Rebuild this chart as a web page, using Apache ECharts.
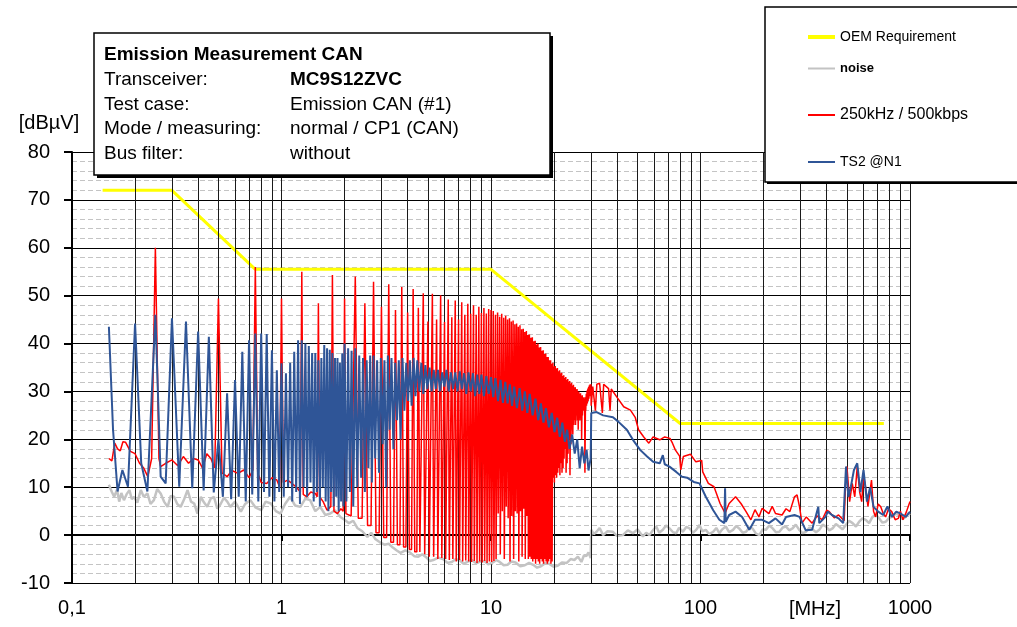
<!DOCTYPE html>
<html>
<head>
<meta charset="utf-8">
<script src="https://cdn.jsdelivr.net/npm/echarts@6/dist/echarts.min.js"></script>
<style>
  html, body { margin: 0; padding: 0; background: #fff; }
  #chart { width: 1017px; height: 627px; }
</style>
</head>
<body>
<div id="chart"></div>
<script>
// x: frequency in MHz (log axis), y: level in dBµV
const xTickLabels = ['0,1', '1', '10', '100', '1000'];
const minorGridMHz = [0.2, 0.3, 0.4, 0.5, 0.6, 0.7, 0.8, 0.9,
  2, 3, 4, 5, 6, 7, 8, 9, 20, 30, 40, 50, 60, 70, 80, 90,
  200, 300, 400, 500, 600, 700, 800, 900];

const oemLimit = [[0.14, 72], [0.3, 72], [0.75, 55.5], [10, 55.5], [80, 23.3], [750, 23.3]];

const noiseTrace = [
  [0.15,10.5],[0.155,9],[0.159,8],[0.164,9.5],[0.168,7],[0.172,8.8],[0.177,7.3],[0.182,8.5],[0.188,9.4],[0.193,7.5],
  [0.198,8],[0.205,6.8],[0.213,9.4],[0.22,8],[0.229,8.7],[0.237,6.5],[0.246,7.3],[0.255,9.6],[0.265,8.7],[0.275,7],
  [0.286,5.9],[0.296,8.2],[0.307,8],[0.318,6.5],[0.33,5.9],[0.343,7.5],[0.356,9.4],[0.37,7],[0.383,6.6],[0.397,4.5],
  [0.412,8],[0.427,6.8],[0.442,5.9],[0.459,7.6],[0.476,8],[0.494,5.5],[0.512,6.5],[0.531,7.8],[0.551,7],[0.57,5.9],
  [0.6,7],[0.64,4.9],[0.67,6.5],[0.71,7.3],[0.75,5.8],[0.8,5.2],[0.84,7],[0.89,6.6],[0.94,5],[0.99,4.5],
  [1.04,6.5],[1.1,8],[1.16,6.2],[1.23,5.9],[1.3,7.6],[1.37,7.3],[1.45,5],[1.53,5.9],[1.62,4.2],[1.71,4.5],
  [1.8,5.2],[1.91,3.8],[2.0,3.2],[2.1,2.5],[2.2,3],[2.3,1.5],[2.43,0.8],[2.57,-0.4],[2.68,0.5],[2.8,-0.8],
  [2.95,-1.5],[3.1,-2],[3.25,-1.8],[3.4,-2.6],[3.55,-3.2],[3.7,-3.7],[3.9,-3.2],[4.1,-3.6],[4.3,-4.4],[4.5,-4.5],
  [4.7,-4],[4.9,-4.6],[5.1,-5.4],[5.3,-5.2],[5.6,-4.7],[5.9,-5],[6.2,-5.8],[6.5,-5.6],[6.8,-5],[7.1,-5.3],
  [7.4,-6],[7.7,-5.6],[8.1,-5.2],[8.5,-5.9],[8.9,-5.5],[9.3,-5.4],[9.7,-6.1],[10.2,-5.7],[10.6,-5.2],[11,-5.6],
  [11.5,-6.3],[12,-6.2],[12.5,-5.5],[13.1,-5.7],[13.8,-6.5],[14.5,-6.3],[15.2,-5.8],[15.9,-6.2],[16.6,-6.8],[17.3,-6.5],
  [18.1,-5.9],[19,-6],[19.9,-6.6],[20.8,-6.4],[21.8,-5.7],[23,-5.8],[24,-5],[25,-5.2],[26,-4.5],[27,-5.6],
  [27.8,-4.2],[28.5,-4.4],[29.2,-3.6],[29.9,-4.8],
  [30.1,1.1],[31,0.2],[31.9,0.7],[33,1.5],[34.3,0],[36,0.8],[38.2,0.7],[40,-0.2],[42.6,0],[45,1],
  [47.6,0.4],[50,1.2],[53.1,-0.3],[55,0.5],[57.1,0],[59,0.9],[61.5,1.8],[63.5,0.5],[66.1,1.1],[68.5,2],
  [71.1,1.4],[74,0.6],[76.6,0.4],[79,1.5],[82.4,0.7],[85.5,1.7],[88.7,1.4],[92,0.5],[95.4,1.1],[98.9,2.1],
  [102,0.8],[106,1.1],[110,0.2],[115,0.7],[119,1.5],[123,0.4],[127,1.2],[132,1.8],[137,0.6],[143,1.1],
  [148,1.9],[153,1.4],[159,0.5],[165,0.7],[171,1.6],[177,1.4],[184,0.3],[191,0],[198,1.2],[205,1.1],
  [213,2],[221,1.4],[229,0.6],[238,0.7],[247,1.6],[256,1.8],[265,1],[275,1.4],[285,2.2],[296,1.1],
  [307,0.4],[319,0.7],[331,1.6],[343,1.2],[356,0.6],[369,1.1],[383,2.2],[397,1.8],[412,1],[427,1.4],
  [443,2.3],[459,1.8],[476,1.2],[494,2.1],[512,3],[532,2.5],[552,1.8],[572,2.8],[593,3.5],[615,3.2],
  [638,2.5],[662,3.8],[687,4.3],[712,3.5],[739,2.6],[766,2.8],[795,3.6],[824,3.8],[855,4.5],[887,4.2],
  [920,3.3],[954,3.8],[980,4.6],[1000,4.2]
];

// 250 kHz / 500 kbps: low band read point by point
const redLow = [
  [0.15,16],[0.155,15.5],[0.16,19.2],[0.165,18],[0.17,17.6],[0.175,19.5],[0.18,19.4],[0.19,17.5],[0.2,17],[0.21,15],
  [0.22,14],[0.23,12.2],[0.24,16],[0.25,60],[0.26,16],[0.265,14.3],[0.28,15],[0.3,15.7],[0.32,14.5],[0.34,16.4],
  [0.36,15],[0.38,16],[0.4,15.7],[0.42,14],[0.44,17],[0.46,16],[0.48,14],[0.5,49.4],[0.52,13],[0.55,12.2],
  [0.58,13.5],[0.62,12.9],[0.66,13.6],[0.7,12],[0.73,13.6],[0.75,56],[0.77,13],[0.8,11],[0.85,10.8],[0.9,12],
  [0.95,11.5],[0.98,10],[1.0,49.4],[1.02,11],[1.07,11.5],[1.12,10.8],[1.18,10],[1.23,9],[1.25,55],[1.27,8.5],
  [1.32,8],[1.38,9],[1.45,8.7],[1.48,8],[1.5,48.4],[1.52,8],[1.58,7],[1.65,5.2],[1.72,6],[1.75,54.3],
  [1.78,5],[1.85,4.5],[1.92,5.5],[1.97,5],[2.0,49.4],[2.03,4.5],[2.15,4]
];
// harmonics of 250 kHz from 2.25 MHz (n = 9) to 30 MHz (n = 120): peak and floor after each
const redHarmStep = 0.25;
const redHarmFirst = 9;
const redHarmPeak = [
  54, 48.4, 52.9, 47.7, 52.4, 47, 51.8, 46.5, 51.4, 47.5, 50.5, 44.6,
  50.4, 45, 50.1, 44.5, 49.2, 45.5, 49, 45, 48.6, 46,
  48.3, 46.2, 48, 46, 47.7, 46.4, 47.4, 46.3, 47.2, 47,
  46.8, 46, 46.5, 45.6, 46.2, 45.4, 45.8, 45, 45.3, 44.6,
  44.8, 44, 44.2, 43.5, 43.8, 43, 43.1, 42.4, 42.6, 41.8,
  41.9, 41.2, 41.3, 40.5, 40.6, 39.8, 40, 39.2, 39.3, 38.5,
  38.6, 37.8, 37.9, 37.2, 37.2, 36.5, 36.5, 35.8, 36, 35.2,
  35.3, 34.8, 34.9, 34.2, 34.4, 33.8, 33.9, 33.2, 33.4, 32.8,
  33, 32.4, 32.6, 32, 32.2, 31.6, 31.8, 31.2, 31.4, 30.8,
  30.9, 30.4, 30.5, 30, 30, 29.5, 29.6, 29, 29.2, 28.6,
  28.8, 28.4, 28.8, 29.5, 30.2, 30.6, 31, 31.3, 31.5, 31.5
];
const redHarmDip = [
  3.5, 2, 0.5, -0.5, -1.5, -2, -2.5, -3, -3.5, -3.5, -4, -4.5,
  -4.5, -5, -4.8, -5, -5.2, -5, -5.5, -5.2, -5.5, -5.3,
  -5.5, -5.6, -5.4, -5.8, -5.5, -5.7, -5.4, -5.8, -5.5, -5.6,
  -5.4, -5, 4.5, -4, 5, -5, 6, 3.5, -5.5, 4,
  -5, 5, 4.5, -5.5, 5, -4.5, 5.5, -5, 4, -5,
  -4.5, -5, -5.5, -5, -6, -5, -5.5, -6, -5, -5.5,
  -6, -5, -5.5, -6, -5.5, -5, -6, -5.5, 12, 11,
  12.5, 12, 13, 14, 12.5, 15, 13, 14, 16, 18,
  13, 15, 17, 20, 12.5, 19, 22, 21, 23, 24,
  23, 25, 24, 22, 25, 24, 26, 20, 25, 26,
  26, 13, 26, 27, 27.5, 28, 28.5, 29, 29, 27
];
const redHigh = [
  [30.6,31],[31.5,26],[32,31.5],[33,31.7],[34,25.5],[34.5,31.5],[36.4,30.6],[37,26],[37.5,30.5],[40.2,28.6],
  [43,26.8],[46.3,26.1],[48.8,24.6],[50.6,22],[53.6,20.5],[56.7,19.2],[59.4,20.5],[63.9,19.9],[67.5,20.5],[71.5,20.2],
  [73.5,19.2],[75.8,17.8],[79.5,16.5],[80.5,13.6],[82.8,16.4],[89.5,16.9],[95,15.3],[101.3,15.6],[102.5,13.2],[109,10.8],
  [116,10.1],[124,6.6],[131,4.6],[137,6.6],[147,8],[156,6.6],[165,4.9],[174,3.2],[182,5.3],[190,3.8],
  [197,5.6],[212,4.5],[220,6],[228,4.5],[245,4.2],[256,5.5],[267,4.9],[281,8],[289,8.4],[297,5.9],
  [305,2.5],[320,3.8],[341,2.5],[360,4],[381,3.2],[400,5.2],[412,4.9],[435,3.6],[456,4.2],[485,3],
  [492,10.1],[500,14.3],[515,7],[530,10.8],[545,8],[560,14.3],[575,9],[588,7],[600,12],[610,10.8],
  [630,6],[655,11.5],[670,5],[685,3.8],[705,6.5],[725,5.9],[745,4.5],[765,3.8],[790,5.5],[818,4.9],
  [850,3.2],[880,3.5],[900,5],[925,3.2],[960,4.8],[1000,7]
];

// TS2 @N1
const blueLow = [
  [0.15,43.5],[0.157,22],[0.165,9.1],[0.174,13.6],[0.185,10.1],[0.2,44.2],[0.214,15],[0.229,9.1],[0.25,46],[0.265,12.2],
  [0.28,10.8],[0.3,45.3],[0.325,10.1],[0.35,44.6],[0.375,9.8],[0.4,42.5],[0.425,9.3],[0.45,41.4],[0.475,8.9],[0.5,20],
  [0.525,8],[0.55,29.6],[0.575,7.5],[0.6,32.4],[0.625,8],[0.65,38.3],[0.675,7],[0.7,40.7],[0.725,8.5],[0.75,42.1],
  [0.775,7],[0.8,42.1],[0.825,9],[0.85,42],[0.875,8],[0.9,38.6],[0.925,7],[0.95,34.4],[0.975,9],[1.0,35.9],
  [1.025,8],[1.05,33.8],[1.075,10],[1.1,36],[1.125,7],[1.15,38.3],[1.175,9],[1.2,40.7],[1.225,6.5],[1.25,40.7],
  [1.275,10],[1.3,40],[1.325,8],[1.35,39.5],[1.375,11],[1.4,38],[1.425,7],[1.45,38],[1.475,9],[1.5,36.5],
  [1.525,6],[1.55,37],[1.575,10],[1.6,39.7],[1.625,7],[1.65,39],[1.675,5],[1.7,38.7],[1.725,9],[1.75,38],
  [1.775,6],[1.8,37],[1.825,8],[1.85,37],[1.875,5],[1.9,36],[1.925,7],[1.95,38],[1.975,6]
];
const blueDense = [
  [2.0,40],[2.04,7],[2.08,39],[2.12,9],[2.16,38.5],[2.2,6],[2.25,39],[2.3,10],[2.35,37.5],[2.4,12],
  [2.45,37],[2.5,9],[2.55,36.5],[2.6,14],[2.65,37.5],[2.7,11],[2.75,37.5],[2.8,16],[2.86,36.5],[2.92,13],
  [2.98,37],[3.04,19],[3.1,36.5],[3.16,10],[3.22,37.5],[3.28,22],[3.35,37],[3.42,18],[3.49,36],[3.56,24],
  [3.63,36.5],[3.7,20],[3.78,37],[3.86,26],[3.94,36],[4.02,28],[4.1,36.5],[4.18,27],[4.27,37],[4.36,29],
  [4.45,36.5],[4.55,30],[4.65,36],[4.75,29.5],[4.86,35.5],[4.97,30.5],[5.09,35],[5.21,30],[5.33,34.5],[5.45,30.5],
  [5.58,34.5],[5.71,30],[5.85,34],[5.99,31],[6.13,34.5],[6.28,30],[6.43,34],[6.59,30.5],[6.75,34],[6.92,30],
  [7.09,34.2],[7.26,30.5],[7.44,33.8],[7.62,29.5],[7.81,34],[8.0,30],[8.2,33.8],[8.4,29],[8.6,33.5],[8.8,29.5],
  [9.0,33.5],[9.25,29],[9.5,33.2],[9.75,29.5],[10.0,33],[10.25,28.8],[10.5,32.8],[10.8,28],[11.1,32.4],[11.4,27.6],
  [11.7,32],[12.0,27.5],[12.3,31.5],[12.6,27],[12.9,31],[13.3,26.5],[13.7,30.7],[14.1,26],[14.5,30],[14.9,25.5],
  [15.3,29.5],[15.8,25],[16.3,28.5],[16.8,24],[17.3,27.5],[17.8,23.5],[18.3,26.5],[18.9,22.5],[19.5,25.5],[20.1,21.5],
  [20.7,24.5],[21.3,20.5],[21.9,23.5],[22.5,19.5],[23.1,22],[23.7,18],[24.4,21],[25.1,17],[25.8,20],[26.5,14],
  [27.2,18.5],[27.9,15],[28.6,17.8],[29.2,13.5],[29.9,16]
];
const blueHigh = [
  [30.1,25.5],[31.9,25.7],[34.3,25],[38.2,24.6],[40.5,23.7],[44.5,22],[47.6,19.9],[51.5,17.8],[55.6,16.4],[59.4,15.3],
  [63.9,15],[66.1,16.7],[67.5,14.8],[71.1,14.3],[76.6,13.2],[81.6,12.2],[86.3,12],[92.8,11.1],[98.9,10.8],[106,8],
  [115,5.2],[123,3.2],[130,2.5],[131,9.8],[132,2.8],[137,4.2],[147,4.9],[158,3.8],[171,1.1],[182,3.2],
  [197,3.2],[212,2.5],[228,3.5],[245,2.2],[256,3.8],[281,4.2],[297,3.8],[318,1],[341,1.1],[365,5.9],
  [369,2.5],[395,3.8],[405,4.9],[424,4.2],[456,3.5],[480,2.5],[495,14.3],[508,8],[522,10.1],[540,13.6],
  [560,15],[580,9],[600,13.6],[623,7],[645,10],[670,5.9],[705,4.9],[745,4.2],[780,6],[818,3.8],
  [860,4.9],[902,4.5],[955,3.8],[1000,4.9]
];

function harmonicTrace(step, first, peaks, dips) {
  const out = [];
  peaks.forEach(function (p, i) {
    const f = (first + i) * step;
    out.push([f, p]);
    out.push([f + step * 0.3, dips[i]]);
    out.push([f + step * 0.7, dips[i]]);
  });
  return out;
}

const redTrace = redLow.concat(harmonicTrace(redHarmStep, redHarmFirst, redHarmPeak, redHarmDip), redHigh);
const blueTrace = blueLow.concat(blueDense, blueHigh);

const font = '"Liberation Sans", Arial, sans-serif';
const chart = echarts.init(document.getElementById('chart'));

function lineSeries(name, data, color, width, z) {
  return {
    name: name, type: 'line', data: data, z: z,
    symbol: 'none', showSymbol: false, silent: true,
    lineStyle: { color: color, width: width },
    itemStyle: { color: color }
  };
}

function legendItem(name, top, size, thick, weight) {
  return {
    data: [name], left: 803, top: top, z: 60,
    icon: 'rect', itemWidth: 27, itemHeight: thick, selectedMode: false,
    textStyle: { color: '#000', fontSize: size, fontWeight: weight || 'normal', fontFamily: font }
  };
}

function boxText(x, y, text, bold) {
  return {
    type: 'text', x: x, y: y, z: 55,
    style: { text: text, fill: '#000', fontSize: 19, fontWeight: bold ? 'bold' : 'normal',
      fontFamily: font, verticalAlign: 'middle' }
  };
}

const option = {
  backgroundColor: '#fff',
  animation: false,
  grid: { left: 72, right: 107, top: 152, bottom: 44, containLabel: false },
  xAxis: {
    type: 'log', logBase: 10, min: 0.1, max: 1000,
    axisLine: { lineStyle: { color: '#000', width: 2 } },
    axisTick: { show: true, length: 6, lineStyle: { color: '#000', width: 2 } },
    axisLabel: { color: '#000', fontSize: 20, fontFamily: font, margin: 15,
      formatter: function (v, i) { return xTickLabels[i]; } },
    splitLine: { show: true, lineStyle: { color: '#1a1a1a', width: 1 } }
  },
  yAxis: {
    type: 'value', min: -10, max: 80, interval: 10,
    name: '[dBµV]', nameLocation: 'end', nameGap: 29,
    nameTextStyle: { color: '#000', fontSize: 20, fontFamily: font, align: 'center',
      verticalAlign: 'middle', padding: [0, 46, 0, 0] },
    axisLine: { show: true, lineStyle: { color: '#000', width: 2 } },
    axisTick: { show: true, length: 8, lineStyle: { color: '#000', width: 2 } },
    axisLabel: { color: '#000', fontSize: 20, fontFamily: font, margin: 22 },
    splitLine: { show: true, lineStyle: { color: '#000', width: 1 } },
    minorTick: { show: false, splitNumber: 5 },
    minorSplitLine: { show: true, lineStyle: { color: '#c4c4c4', width: 1, type: [5, 3] } }
  },
  legend: [
    legendItem('OEM Requirement', 25, 14, 4),
    legendItem('noise', 57, 13, 2, 'bold'),
    legendItem('250kHz / 500kbps', 102, 16, 2),
    legendItem('TS2 @N1', 150, 14, 2)
  ],
  graphic: [
    // info box with drop shadow
    { type: 'rect', z: 50, shape: { x: 97, y: 36, width: 456, height: 142 }, style: { fill: '#000' } },
    { type: 'rect', z: 51, shape: { x: 94, y: 33, width: 456, height: 142 },
      style: { fill: '#fff', stroke: '#000', lineWidth: 1.5 } },
    boxText(104, 55, 'Emission Measurement CAN', true),
    boxText(104, 80, 'Transceiver:'),
    boxText(290, 80, 'MC9S12ZVC', true),
    boxText(104, 104.5, 'Test case:'),
    boxText(290, 104.5, 'Emission CAN (#1)'),
    boxText(104, 129, 'Mode / measuring:'),
    boxText(290, 129, 'normal / CP1 (CAN)'),
    boxText(104, 153.5, 'Bus filter:'),
    boxText(290, 153.5, 'without'),
    // legend frame
    { type: 'rect', z: 50, shape: { x: 767, y: 9, width: 260, height: 175 }, style: { fill: '#000' } },
    { type: 'rect', z: 51, shape: { x: 765, y: 7, width: 260, height: 175 },
      style: { fill: '#fff', stroke: '#000', lineWidth: 1.5 } },
    { type: 'text', x: 815, y: 609, z: 55,
      style: { text: '[MHz]', fill: '#000', fontSize: 20, fontFamily: font, align: 'center', verticalAlign: 'middle' } }
  ],
  series: [
    {
      name: 'minor grid', type: 'line', data: [], z: 1, silent: true,
      markLine: {
        silent: true, symbol: ['none', 'none'], animation: false,
        label: { show: false },
        lineStyle: { color: '#1a1a1a', width: 1, type: 'solid' },
        data: minorGridMHz.map(function (v) { return { xAxis: v }; })
      }
    },
    lineSeries('OEM Requirement', oemLimit, '#ffff00', 3, 3),
    lineSeries('noise', noiseTrace, '#c3c3c3', 2.5, 4),
    lineSeries('250kHz / 500kbps', redTrace, '#ff0000', 1.5, 5),
    lineSeries('TS2 @N1', blueTrace, '#2f5597', 2, 6)
  ]
};

chart.setOption(option);
</script>
</body>
</html>
